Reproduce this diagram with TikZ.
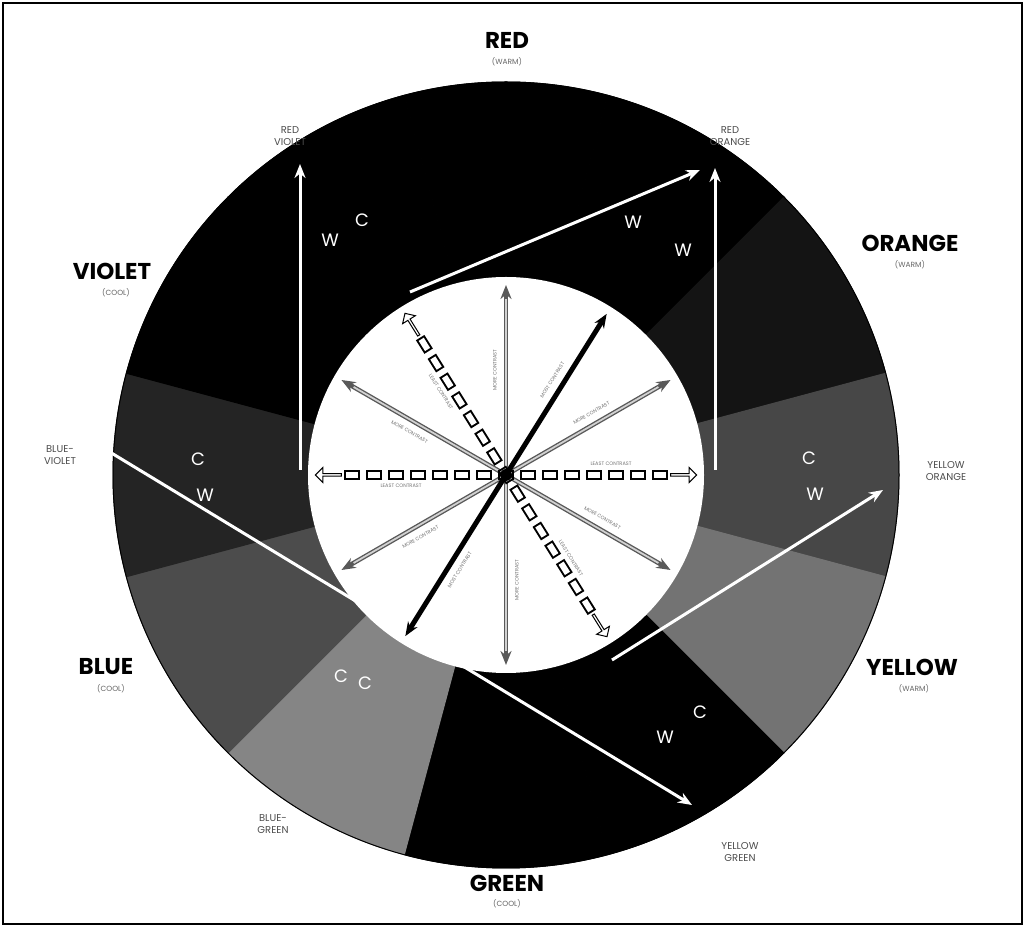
\documentclass[tikz,border=0pt]{standalone}
\usepackage{fontspec}
\setmainfont{Poppins}
\usetikzlibrary{arrows.meta,calc,shapes.arrows}

\begin{document}
\begin{tikzpicture}[x=1bp,y=1bp,
    hue/.style={font=\fontsize{23}{23}\selectfont\bfseries},
    temp/.style={font=\fontsize{7.5}{7.5}\selectfont,text=black!60},
    mix/.style={font=\fontsize{10}{11.5}\selectfont,text=black!70,align=center},
    wc/.style={font=\fontsize{18}{18}\selectfont,text=white},
    ring/.style={white,line width=3bp},
    spokelbl/.style={font=\fontsize{5}{6}\selectfont,text=black!55},
    >={Stealth[length=14bp,width=11bp]}
]
\useasboundingbox (0,0) rectangle (1025,927);
\draw[line width=2bp] (3,3) rectangle (1022,924);
\coordinate (O) at (506,452);

% colour ring, one slice per hue
\foreach \a/\c in {90/black,60/black,30/black!92,0/black!72,-30/black!55,-60/black,
                   -90/black,-120/black!48,-150/black!70,180/black!86,150/black,120/black}
  \filldraw[\c,line width=1bp] (O) -- ($(O)+(\a-15:393)$) arc[start angle=\a-15,end angle=\a+15,radius=393] -- cycle;
\draw[line width=1bp] (O) circle[radius=393];
\fill[white] (O) circle[radius=198];

% hue names
\node[hue] (red) at (507,887) {RED};
\node[temp] (redT) at (507,865) {(WARM)};
\node[hue] (orange) at (910,684) {ORANGE};
\node[temp] (orangeT) at (910,662) {(WARM)};
\node[hue] (yellow) at (912,260) {YELLOW};
\node[temp] (yellowT) at (914,238) {(WARM)};
\node[hue] (green) at (507,44) {GREEN};
\node[temp] (greenT) at (507,23) {(COOL)};
\node[hue] (blue) at (106,260) {BLUE};
\node[temp] (blueT) at (111,238) {(COOL)};
\node[hue] (violet) at (112,656) {VIOLET};
\node[temp] (violetT) at (116,634) {(COOL)};

\node[mix] (redviolet) at (290,791) {RED\\VIOLET};
\node[mix] (redorange) at (730,791) {RED\\ORANGE};
\node[mix] (yelloworange) at (946,456) {YELLOW\\ORANGE};
\node[mix] (yellowgreen) at (740,75) {YELLOW\\GREEN};
\node[mix] (bluegreen) at (273,103) {BLUE-\\GREEN};
\node[mix] (blueviolet) at (60,472) {BLUE-\\VIOLET};

% white connectors on the ring
\coordinate (rvBase) at (300,457);
\coordinate (rvTip) at (300,763);
\coordinate (roBase) at (715,457);
\coordinate (roTip) at (715,759);
\coordinate (rdBase) at (410,635);
\coordinate (rdTip) at (700,757);
\coordinate (bvTip) at (90,487);
\coordinate (ygTip) at (692,122);
\coordinate (yoBase) at (612,267);
\coordinate (yoTip) at (883,437);
\draw[ring,->] (rvBase) -- (rvTip);
\draw[ring,->] (roBase) -- (roTip);
\draw[ring,->] (rdBase) -- (rdTip);
\draw[ring,<->] (bvTip) -- (ygTip);
\draw[ring,->] (yoBase) -- (yoTip);

% warm / cool marks
\node[wc] (w1) at (330,687) {W};
\node[wc] (c1) at (362,707) {C};
\node[wc] (w2) at (633,705) {W};
\node[wc] (w3) at (683,677) {W};
\node[wc] (c2) at (198,468) {C};
\node[wc] (w4) at (205,432) {W};
\node[wc] (c3) at (809,469) {C};
\node[wc] (w5) at (815,433) {W};
\node[wc] (c4) at (341,251) {C};
\node[wc] (c5) at (365,244) {C};
\node[wc] (c6) at (700,215) {C};
\node[wc] (w6) at (665,190) {W};

% spokes of the inner circle
\foreach \h in {30,90,150}{
  \coordinate (sa\h) at ($(O)+(\h:190)$);
  \coordinate (sb\h) at ($(O)+(\h+180:190)$);
  \draw[black!65,line width=4.5bp,<->] (sa\h) -- (sb\h);
  \draw[black!18,line width=1.8bp,shorten >=14bp,shorten <=14bp] (sa\h) -- (sb\h);
}
\coordinate (sa60) at ($(O)+(58:190)$);
\coordinate (sb60) at ($(O)+(238:190)$);
\draw[black,line width=5bp,<->] (sa60) -- (sb60);
\foreach \h in {0,122}{
  \coordinate (da\h) at ($(O)+(\h:162)$);
  \coordinate (db\h) at ($(O)+(\h+180:162)$);
  \draw[black,line width=10bp,dash pattern=on 16bp off 6bp] (da\h) -- (db\h);
  \draw[white,line width=6bp,dash pattern=on 12bp off 10bp,dash phase=20bp] (da\h) -- (db\h);
  \node[single arrow,draw,fill=white,line width=1bp,minimum height=26bp,minimum width=15bp,
        single arrow head extend=2.5bp,inner sep=0pt,rotate=\h] (ha\h) at ($(O)+(\h:177)$) {};
  \node[single arrow,draw,fill=white,line width=1bp,minimum height=26bp,minimum width=15bp,
        single arrow head extend=2.5bp,inner sep=0pt,rotate=\h+180] (hb\h) at ($(O)+(\h+180:177)$) {};
}
\fill[black] (O) circle[radius=6bp];

% spoke labels
\foreach \h/\r/\t in {0/0/LEAST CONTRAST,30/30/MORE CONTRAST,58/58/MOST CONTRAST,
                      90/90/MORE CONTRAST,122/-58/LEAST CONTRAST,150/-30/MORE CONTRAST,
                      180/0/LEAST CONTRAST,210/30/MORE CONTRAST,238/58/MOST CONTRAST,
                      270/90/MORE CONTRAST,302/-58/LEAST CONTRAST,330/-30/MORE CONTRAST}
  \node[spokelbl,rotate=\r] (lbl\h) at ($(O)+(\h:105)+(\h+90:11)$) {\t};
\end{tikzpicture}
\end{document}
